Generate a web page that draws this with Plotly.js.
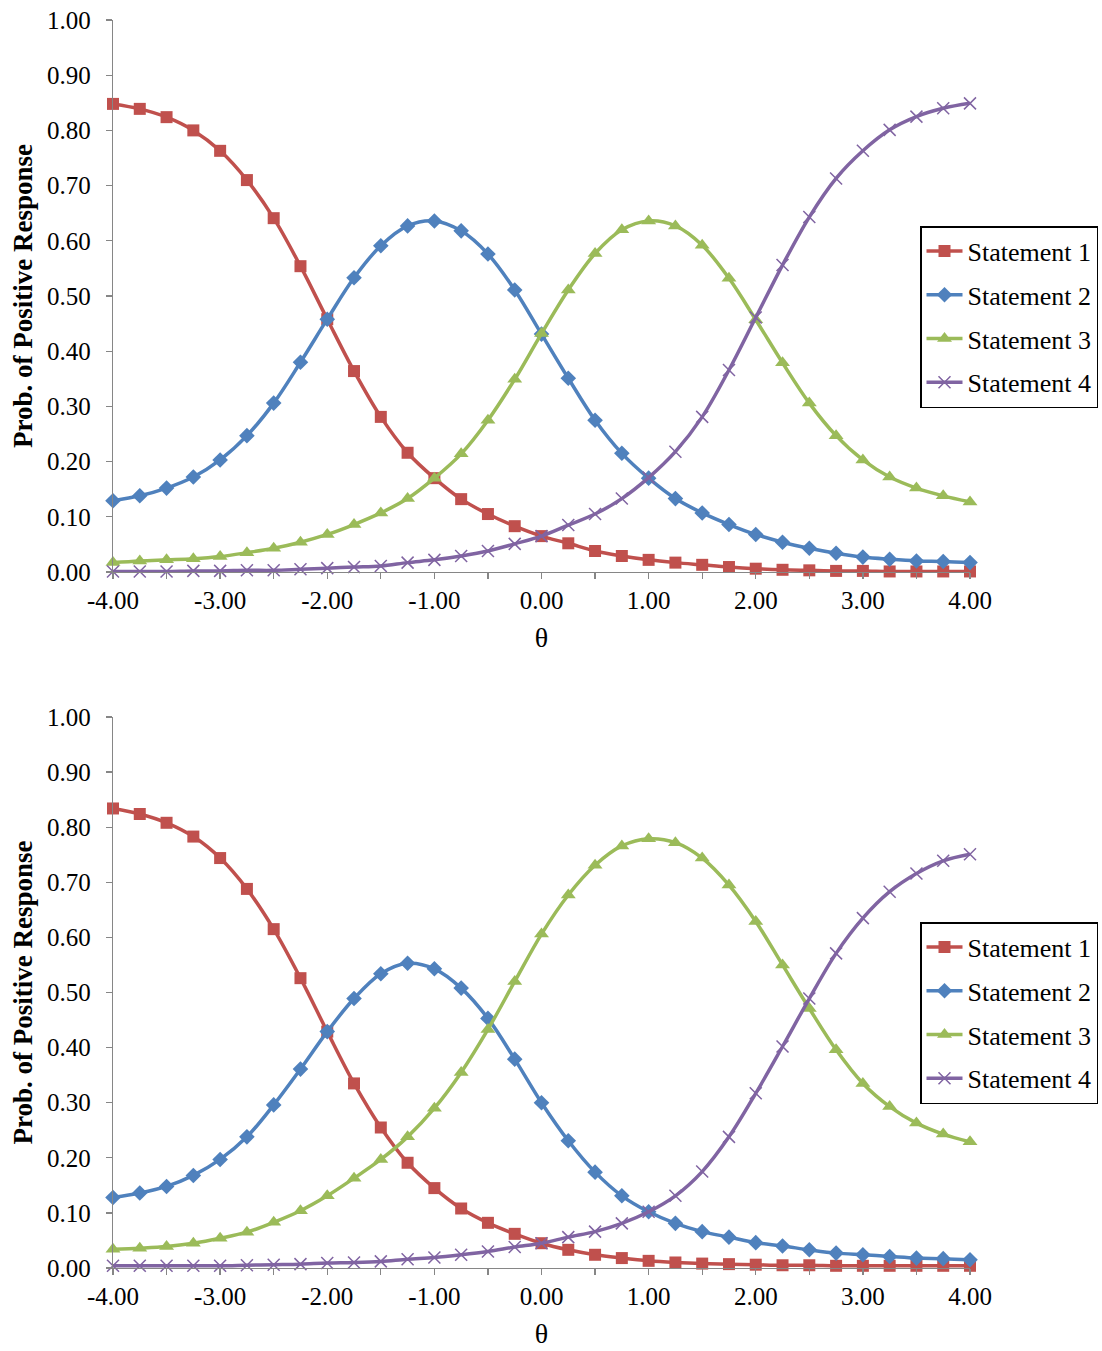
<!DOCTYPE html>
<html>
<head>
<meta charset="utf-8">
<script src="https://cdn.plot.ly/plotly-3.0.1.min.js"></script>
<style>
html, body { margin: 0; padding: 0; background: #ffffff; }
#chart { width: 1102px; height: 1351px; }
</style>
</head>
<body>
<div id="chart"></div>
<script>
// ---- Data ----
const theta = [-4.00, -3.75, -3.50, -3.25, -3.00, -2.75, -2.50, -2.25, -2.00, -1.75, -1.50, -1.25, -1.00, -0.75, -0.50, -0.25,
  0.00, 0.25, 0.50, 0.75, 1.00, 1.25, 1.50, 1.75, 2.00, 2.25, 2.50, 2.75, 3.00, 3.25, 3.50, 3.75, 4.00];

const seriesNames = ["Statement 1", "Statement 2", "Statement 3", "Statement 4"];

// Top chart
const top1 = [0.848, 0.839, 0.824, 0.800, 0.763, 0.710, 0.641, 0.554, 0.458, 0.364, 0.281, 0.216, 0.170, 0.132, 0.105, 0.083,
  0.065, 0.052, 0.038, 0.029, 0.022, 0.017, 0.013, 0.009, 0.006, 0.004, 0.003, 0.002, 0.002, 0.001, 0.001, 0.001, 0.001];
const top2 = [0.129, 0.138, 0.152, 0.172, 0.203, 0.247, 0.306, 0.380, 0.458, 0.533, 0.591, 0.627, 0.636, 0.618, 0.576, 0.511,
  0.431, 0.351, 0.275, 0.215, 0.170, 0.133, 0.107, 0.086, 0.068, 0.054, 0.043, 0.034, 0.027, 0.023, 0.020, 0.019, 0.017];
const top3 = [0.017, 0.020, 0.022, 0.024, 0.028, 0.035, 0.043, 0.054, 0.068, 0.086, 0.107, 0.133, 0.170, 0.214, 0.275, 0.349,
  0.432, 0.511, 0.577, 0.620, 0.636, 0.627, 0.592, 0.532, 0.457, 0.379, 0.306, 0.247, 0.203, 0.172, 0.152, 0.138, 0.127];
const top4 = [0.001, 0.001, 0.001, 0.002, 0.002, 0.003, 0.003, 0.005, 0.007, 0.009, 0.011, 0.017, 0.022, 0.029, 0.038, 0.051,
  0.065, 0.085, 0.105, 0.133, 0.171, 0.218, 0.281, 0.366, 0.461, 0.556, 0.643, 0.713, 0.763, 0.801, 0.825, 0.840, 0.849];

// Bottom chart
const bot1 = [0.834, 0.824, 0.808, 0.783, 0.744, 0.688, 0.615, 0.526, 0.429, 0.335, 0.255, 0.191, 0.145, 0.108, 0.082, 0.062,
  0.045, 0.033, 0.024, 0.018, 0.013, 0.010, 0.008, 0.007, 0.006, 0.005, 0.005, 0.004, 0.004, 0.004, 0.004, 0.004, 0.004];
const bot2 = [0.128, 0.136, 0.148, 0.168, 0.197, 0.238, 0.296, 0.361, 0.429, 0.489, 0.534, 0.553, 0.543, 0.508, 0.453, 0.379,
  0.300, 0.231, 0.174, 0.131, 0.102, 0.081, 0.066, 0.056, 0.046, 0.040, 0.033, 0.027, 0.024, 0.021, 0.018, 0.017, 0.015];
const bot3 = [0.034, 0.036, 0.039, 0.045, 0.054, 0.065, 0.083, 0.104, 0.131, 0.163, 0.197, 0.238, 0.290, 0.355, 0.433, 0.520,
  0.606, 0.677, 0.731, 0.766, 0.779, 0.772, 0.744, 0.695, 0.629, 0.550, 0.471, 0.396, 0.335, 0.293, 0.263, 0.243, 0.229];
const bot4 = [0.004, 0.004, 0.004, 0.004, 0.004, 0.005, 0.006, 0.007, 0.009, 0.010, 0.012, 0.016, 0.019, 0.024, 0.030, 0.038,
  0.045, 0.056, 0.066, 0.081, 0.102, 0.131, 0.175, 0.238, 0.317, 0.402, 0.489, 0.571, 0.635, 0.683, 0.716, 0.739, 0.751];

// Tick labels
const xTickVals = [-4, -3.5, -3, -2.5, -2, -1.5, -1, -0.5, 0, 0.5, 1, 1.5, 2, 2.5, 3, 3.5, 4];
const xTickText = ["-4.00", "", "-3.00", "", "-2.00", "", "-1.00", "", "0.00", "", "1.00", "", "2.00", "", "3.00", "", "4.00"];
const yTickVals = [0, 0.1, 0.2, 0.3, 0.4, 0.5, 0.6, 0.7, 0.8, 0.9, 1.0];
const yTickText = ["0.00", "0.10", "0.20", "0.30", "0.40", "0.50", "0.60", "0.70", "0.80", "0.90", "1.00"];
const xTitle = "θ";
const yTitle = "Prob. of Positive Response";

// ---- Styles ----
const colors = ["#C0504D", "#4F81BD", "#9BBB59", "#8064A2"];
const symbols = ["square", "diamond", "triangle-up", "x-thin-open"];
const sizes = [12, 12, 13, 12];
const FONT = "Liberation Serif, Times New Roman, serif";

function mk(yvals, i, axisSuffix, legendName, groupPrefix) {
  return {
    x: theta, y: yvals, name: seriesNames[i],
    type: "scatter", mode: "lines+markers",
    xaxis: "x" + axisSuffix, yaxis: "y" + axisSuffix,
    legend: legendName, legendgroup: groupPrefix + i,
    cliponaxis: false,
    line: { color: colors[i], width: 3.5, shape: "spline", smoothing: 1 },
    marker: { symbol: symbols[i], size: sizes[i], color: colors[i],
      line: { color: colors[i], width: symbols[i] === "x-thin-open" ? 1.5 : 0 } }
  };
}

const data = [
  mk(top1, 0, "", "legend", "t"), mk(top2, 1, "", "legend", "t"), mk(top3, 2, "", "legend", "t"), mk(top4, 3, "", "legend", "t"),
  mk(bot1, 0, "2", "legend2", "b"), mk(bot2, 1, "2", "legend2", "b"), mk(bot3, 2, "2", "legend2", "b"), mk(bot4, 3, "2", "legend2", "b")
];

const W = 1102, H = 1351;
const xDom = [113 / W, 970 / W];

function xAxis(anchor) {
  return {
    domain: xDom, anchor: anchor, range: [-4, 4],
    showline: true, linecolor: "#868686", linewidth: 1.3,
    showgrid: false, zeroline: false,
    ticks: "outside", ticklen: 6, tickcolor: "#868686", tickwidth: 1.3,
    tickmode: "array", tickvals: xTickVals, ticktext: xTickText,
    tickfont: { family: FONT, size: 25, color: "#000" },
    title: { text: xTitle, font: { family: FONT, size: 28, color: "#000" }, standoff: 14 }
  };
}
function yAxis(anchor, dom) {
  return {
    domain: dom, anchor: anchor, range: [0, 1],
    showline: true, linecolor: "#868686", linewidth: 1.3,
    showgrid: false, zeroline: false,
    ticks: "outside", ticklen: 6, tickcolor: "#868686", tickwidth: 1.3,
    ticklabelstandoff: 10,
    tickmode: "array", tickvals: yTickVals, ticktext: yTickText,
    tickfont: { family: FONT, size: 25, color: "#000" },
    title: { text: yTitle, font: { family: FONT, size: 27, color: "#000", weight: "bold" }, standoff: 6 }
  };
}

const legendBase = {
  xanchor: "left", yanchor: "top",
  bgcolor: "#ffffff", bordercolor: "#000000", borderwidth: 1.5,
  font: { family: FONT, size: 26, color: "#000" },
  tracegroupgap: 7, traceorder: "grouped", itemwidth: 36
};

const layout = {
  width: W, height: H,
  margin: { l: 0, r: 0, t: 0, b: 0 },
  paper_bgcolor: "#ffffff", plot_bgcolor: "#ffffff",
  showlegend: true,
  xaxis: xAxis("y"),
  yaxis: yAxis("x", [1 - 572 / H, 1 - 20 / H]),
  xaxis2: xAxis("y2"),
  yaxis2: yAxis("x2", [1 - 1268 / H, 1 - 717 / H]),
  legend: Object.assign({}, legendBase, { x: 920 / W, y: 1 - 226 / H }),
  legend2: Object.assign({}, legendBase, { x: 920 / W, y: 1 - 922 / H })
};

Plotly.newPlot("chart", data, layout, { displayModeBar: false, staticPlot: true });
</script>
</body>
</html>
